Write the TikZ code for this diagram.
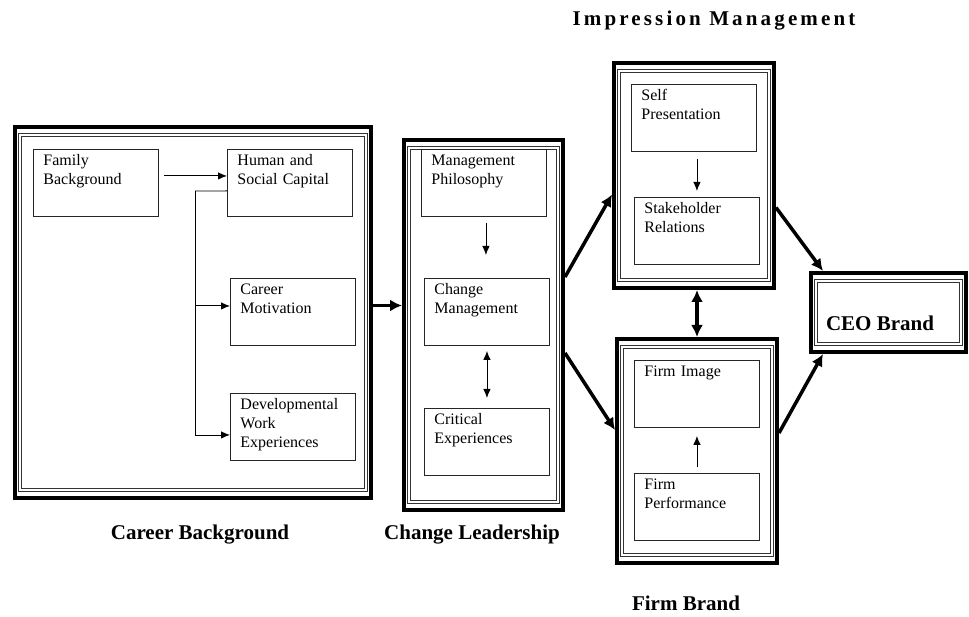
\documentclass[tikz,border=0pt]{standalone}
\usepackage{fontspec}
\setmainfont{Liberation Serif}
\usetikzlibrary{positioning, arrows.meta, calc}

\begin{document}
\begin{tikzpicture}[
    x=1pt, y=-1pt,
    >=Latex,
    % Styles
    item/.style={ % Inner text box
        draw=black!85,
        line width=0.9pt,
        anchor=north west,
        align=left,
        text width=105pt,
        inner xsep=10pt,
        inner ysep=3pt,
        text height=13pt,
        text depth=48pt,
        font=\fontsize{16}{19}\selectfont
    },
    group/.style={ % Thick outer frame
        draw,
        line width=4pt,
        inner sep=0pt
    },
    frame/.style={ % Double inner frame
        draw=black!80,
        double,
        double distance=2pt,
        line width=0.6pt
    },
    arrow/.style={
        -{Latex[length=9pt,width=7.5pt]},
        line width=0.9pt
    },
    biarrow/.style={
        arrow,
        {Latex[length=9pt,width=7.5pt]}-{Latex[length=9pt,width=7.5pt]}
    },
    bigarrow/.style={
        -{Latex[length=12pt,width=12pt]},
        line width=3.5pt
    },
    bibigarrow/.style={
        bigarrow,
        {Latex[length=12pt,width=12pt]}-{Latex[length=12pt,width=12pt]}
    },
    title/.style={
        font=\fontsize{21}{25}\selectfont\bfseries
    }
]
    \useasboundingbox (0,0) rectangle (969,617);

    % Outer frames
    \node[group, minimum width=356pt, minimum height=371pt] (career) at (193,312.5) {};
    \node[group, minimum width=159pt, minimum height=370pt] (change) at (483.5,325) {};
    \node[group, minimum width=160pt, minimum height=225pt] (impression) at (694,175.5) {};
    \node[group, minimum width=160pt, minimum height=224pt] (firm) at (697,451) {};
    \node[group, minimum width=155pt, minimum height=79pt] (ceo) at (888.5,312.5) {};
    \foreach \g in {career, change, impression, firm, ceo}
        \draw[frame] ($(\g.north west)+(7,10)$) rectangle ($(\g.south east)+(-7,-10)$);

    % Career background
    \node[item] (family) at (33,149) {Family\\Background};
    \node[item] (human) at (227,149) {Human and\\Social Capital};
    \node[item] (motivation) at (230,278) {Career\\Motivation};
    \node[item] (work) at (230,393) {Developmental\\Work\\Experiences};
    \coordinate (bus) at (195,191);

    % Change leadership
    \node[item] (philosophy) at (421,149) {Management\\Philosophy};
    \node[item] (changemgmt) at (424,278) {Change\\Management};
    \node[item] (critical) at (424,408) {Critical\\Experiences};

    % Impression management and firm brand
    \node[item] (self) at (631,84) {Self\\Presentation};
    \node[item] (stakeholder) at (634,197) {Stakeholder\\Relations};
    \node[item] (image) at (634,360) {Firm Image};
    \node[item] (performance) at (634,473) {Firm\\Performance};

    % Titles
    \node[title] (careertitle) at (200,535) {Career Background};
    \node[title] (changetitle) at (472,535) {Change Leadership};
    \node[title, font=\fontsize{21}{25}\selectfont\bfseries\addfontfeatures{LetterSpace=15}] (impressiontitle) at (714,21) {Impression Management};
    \node[title] (firmtitle) at (686,603) {Firm Brand};
    \node[title] (ceotitle) at (880,323) {CEO Brand};

    % Inner arrows
    \draw[arrow] ([xshift=5pt,yshift=7pt]family.east) -- ([yshift=7pt]human.west);
    \draw[line width=0.9pt] ([yshift=-8pt]human.west) -- (bus);
    \draw[arrow] (bus) |- ([yshift=6pt]motivation.west);
    \draw[arrow] (bus) |- ([yshift=-8pt]work.west);
    \draw[arrow] ([xshift=2pt,yshift=-6pt]philosophy.south) -- ([xshift=-1pt,yshift=23pt]changemgmt.north);
    \draw[biarrow] ([yshift=-5pt]changemgmt.south) -- ([yshift=10pt]critical.north);
    \draw[arrow] ([xshift=3pt,yshift=-7pt]self.south) -- ([yshift=6pt]stakeholder.north);
    \draw[arrow] ([yshift=6pt]performance.north) -- ([yshift=-8pt]image.south);

    % Outer arrows
    \draw[bigarrow] ([yshift=7pt]career.east) -- ([yshift=7pt]career.east -| change.west);
    \draw[bigarrow] ([yshift=48pt]change.east) -- ([yshift=-19pt]impression.west);
    \draw[bigarrow] ([yshift=-28pt]change.east) -- ([yshift=21pt]firm.west);
    \draw[bibigarrow] (firm.north) -- (firm.north |- impression.south);
    \draw[bigarrow] ([yshift=-32pt]impression.east) -- ([xshift=14pt]ceo.north west);
    \draw[bigarrow] ([yshift=18pt]firm.east) -- ([xshift=14pt]ceo.south west);
\end{tikzpicture}
\end{document}
